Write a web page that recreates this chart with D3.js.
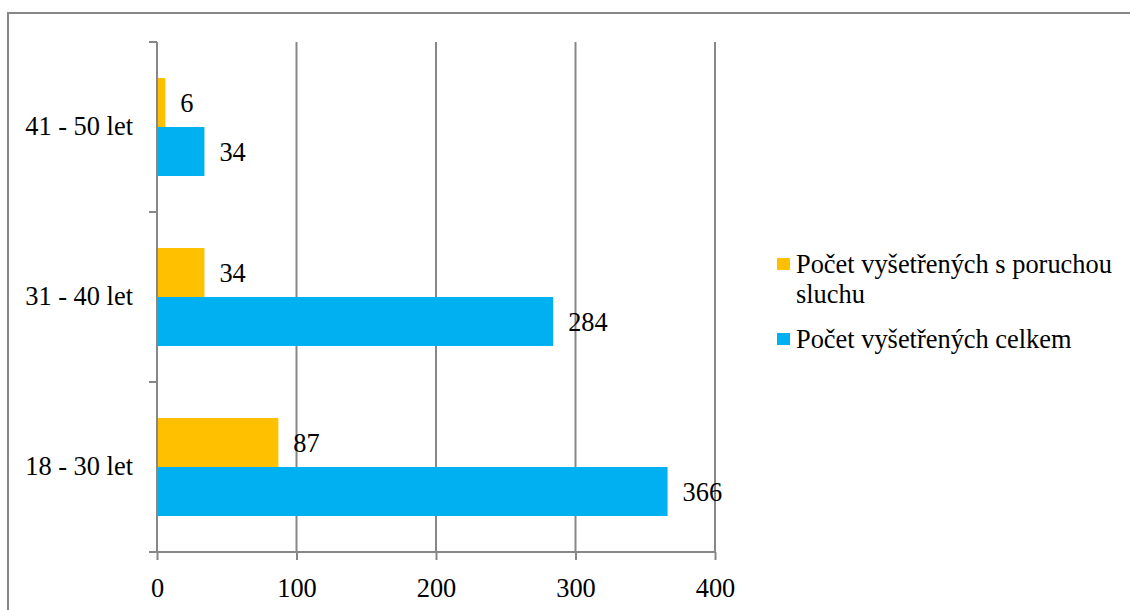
<!DOCTYPE html>
<html>
<head>
<meta charset="utf-8">
<script src="https://cdn.jsdelivr.net/npm/d3@7"></script>
<style>
  html, body { margin: 0; padding: 0; background: #fff; }
  svg { display: block; }
  svg text { font-family: 'Liberation Serif', 'Times New Roman', serif; font-size: 26.4px; fill: #000; }
</style>
</head>
<body>
<div id="chart"></div>
<script>
// categories from bottom to top
const categories = ['18 - 30 let', '31 - 40 let', '41 - 50 let'];
const seriesNames = ['Počet vyšetřených s poruchou sluchu', 'Počet vyšetřených celkem'];
const withDisorder = [87, 34, 6];
const total = [366, 284, 34];
const xTicks = [0, 100, 200, 300, 400];

const W = 1130, H = 610;
const margin = { top: 42, left: 157, right: 415, bottom: 58 };
const colors = ['#FFC000', '#00B0F0'];
const gray = '#878787';
const FONT = "'Liberation Serif', serif";

const svg = d3.select('#chart').append('svg').attr('width', W).attr('height', H);

// outer chart frame
svg.append('rect').attr('x', 8).attr('y', 13).attr('width', 1140).attr('height', 620)
  .attr('fill', 'none').attr('stroke', gray).attr('stroke-width', 2);

const x = d3.scaleLinear().domain([0, 400]).range([margin.left, W - margin.right]);
const y = d3.scaleBand().domain(categories.slice().reverse())
  .range([margin.top, H - margin.bottom]).paddingInner(0.4235).paddingOuter(0.4235 / 2);
const ySub = d3.scaleBand().domain([0, 1]).range([0, y.bandwidth()]);

const plotTop = margin.top, plotBottom = H - margin.bottom;

// vertical gridlines
svg.append('g').selectAll('line').data(xTicks.slice(1)).enter().append('line')
  .attr('x1', d => x(d)).attr('x2', d => x(d)).attr('y1', plotTop).attr('y2', plotBottom)
  .attr('stroke', gray).attr('stroke-width', 2);

// bars + value labels
const rows = categories.map((c, i) => ({ cat: c, vals: [withDisorder[i], total[i]] }));
const g = svg.append('g');
rows.forEach(r => {
  r.vals.forEach((v, s) => {
    const y0 = y(r.cat) + ySub(s);
    g.append('rect').attr('x', x(0)).attr('y', y0).attr('width', x(v) - x(0)).attr('height', ySub.bandwidth())
      .attr('fill', colors[s]);
    g.append('text').attr('x', x(v) + 15).attr('y', y0 + ySub.bandwidth() / 2).attr('dy', '0.35em')
      .style('font-family', FONT).text(v);
  });
});

// y axis
const yAxis = d3.axisLeft(y).tickSize(0).tickPadding(24);
const yg = svg.append('g').attr('transform', `translate(${x(0)},0)`).call(yAxis);
yg.select('.domain').remove();
yg.selectAll('text').style('font-family', FONT).attr('fill', '#000');
svg.append('line').attr('x1', x(0)).attr('x2', x(0)).attr('y1', plotTop).attr('y2', plotBottom)
  .attr('stroke', gray).attr('stroke-width', 2);
const yEdges = categories.map(c => y(c) - y.step() * y.paddingInner() / 2).concat([plotBottom]);
svg.append('g').selectAll('line').data(yEdges).enter().append('line')
  .attr('x1', x(0) - 8).attr('x2', x(0)).attr('y1', d => d).attr('y2', d => d)
  .attr('stroke', gray).attr('stroke-width', 2);

// x axis
const xAxis = d3.axisBottom(x).tickValues(xTicks).tickSize(8).tickSizeOuter(0).tickPadding(18);
const xg = svg.append('g').attr('transform', `translate(0,${plotBottom})`).call(xAxis);
xg.select('.domain').attr('d', `M${x(0) - 8},0H${x(400)}`).attr('stroke', gray).attr('stroke-width', 2);
xg.selectAll('.tick line').attr('stroke', gray).attr('stroke-width', 2);
xg.selectAll('text').style('font-family', FONT).attr('fill', '#000');

// legend
const legend = svg.append('g').attr('transform', 'translate(777,0)');
const legendItems = [
  { lines: ['Počet vyšetřených s poruchou', 'sluchu'], y: 258, color: colors[0] },
  { lines: ['Počet vyšetřených celkem'], y: 333, color: colors[1] }
];
legendItems.forEach(it => {
  legend.append('rect').attr('x', 0).attr('y', it.y).attr('width', 13).attr('height', 12).attr('fill', it.color);
  const t = legend.append('text').attr('x', 19).attr('y', it.y + 15).style('font-family', FONT);
  it.lines.forEach((l, i) => t.append('tspan').attr('x', 19).attr('dy', i === 0 ? 0 : 30).text(l));
});
</script>
</body>
</html>
